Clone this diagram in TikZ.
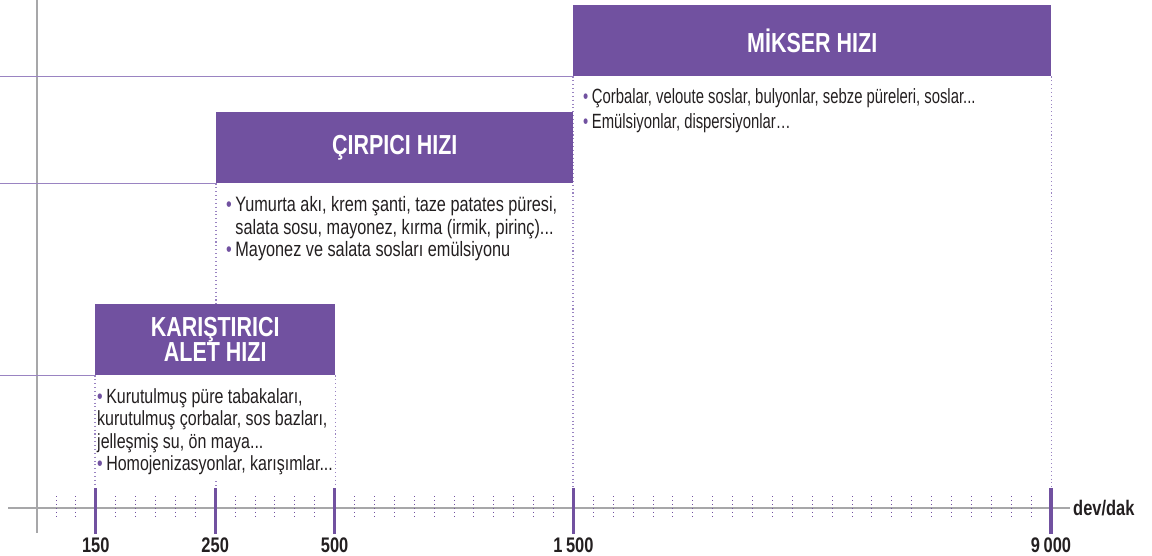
\documentclass[tikz,border=0pt]{standalone}
\usepackage{fontspec}
\setmainfont{Liberation Sans}[FakeStretch=0.78]
\newfontfamily\narrowfont{Liberation Sans}[FakeStretch=0.72]
\usepackage{xcolor}
\usetikzlibrary{positioning,calc}
\definecolor{speedpurple}{HTML}{7151A0}
\definecolor{linepurple}{HTML}{9A84C2}
\definecolor{axisgray}{HTML}{A7A7A9}
\definecolor{ink}{HTML}{231F20}
\newcommand{\pbul}{{\color{speedpurple}\textbullet}\,}

\begin{document}
\begin{tikzpicture}[x=0.03cm, y=-0.03cm]
\useasboundingbox (0,0) rectangle (1152,555);

% boxes are sized in px of the sheet (1px = 0.03cm)
\tikzset{
  speedbox/.style={fill=speedpurple, text=white, inner sep=0pt, anchor=north west, align=center,
                   minimum height=2.13cm, font=\fontsize{23.5}{21.3}\selectfont\bfseries},
  usetext/.style={anchor=north west, inner sep=0pt, align=left, text=ink,
                  font=\fontsize{17.8}{19.4}\selectfont},
  panel/.style={fill=white, inner sep=0pt, anchor=north west},
  rangeline/.style={draw=linepurple, line width=0.9pt, dash pattern=on 0.9pt off 2.4pt},
  levelline/.style={draw=linepurple, line width=0.9pt},
  majortick/.style={draw=speedpurple, line width=2.6pt},
  minortick/.style={draw=speedpurple, line width=0.8pt, dash pattern=on 0.8pt off 2.6pt},
  axislabel/.style={font=\fontsize{18}{20}\selectfont\bfseries, text=ink, inner sep=0pt}}

% frame of the chart
\coordinate (leftedge) at (0,0);
\coordinate (axistop) at (0,487);
\draw[axisgray, line width=1pt] (37,0) -- (37,533);
\draw[axisgray, line width=1.2pt] (8,508) -- (1070,508);
\node[axislabel, anchor=west] (unit) at (1073,508) {dev/dak};

% minor ticks every 19.9px, major ticks at the speed limits
\foreach \k in {0,...,49}{
  \draw[minortick] (56+19.9*\k,496) -- (56+19.9*\k,519);
}
\foreach \k/\val [count=\i] in {2/150, 8/250, 14/500, 26/1\,500, 50/9\,000}{
  \draw[majortick] (56+19.9*\k,488) -- (56+19.9*\k,534);
  \node[axislabel, anchor=base] (tick\i) at (56+19.9*\k,552) {\val};
}

% mikser hizi (1 500 - 9 000)
\node[speedbox, minimum width=14.34cm] (mikser) at (573,5) {MİKSER HIZI};
\draw[levelline] (mikser.south west -| leftedge) -- (mikser.south west);
\draw[rangeline] (mikser.south west) -- (mikser.south west |- axistop);
\draw[rangeline] (mikser.south east) -- (mikser.south east |- axistop);
\node[usetext, font=\narrowfont\fontsize{17.6}{21.3}\selectfont] (mikserlist) at (583,88)
  {\pbul Çorbalar, veloute soslar, bulyonlar, sebze püreleri, soslar...\\
   \pbul Emülsiyonlar, dispersiyonlar\ldots};

% cirpici hizi (250 - 1 500)
\node[speedbox, minimum width=10.71cm] (cirpici) at (216,112) {ÇIRPICI HIZI};
\draw[levelline] (cirpici.south west -| leftedge) -- (cirpici.south west);
\draw[rangeline] (cirpici.south west) -- (cirpici.south west |- axistop);
\node[usetext] (cirpicilist) at (226,196)
  {\pbul Yumurta akı, krem şanti, taze patates püresi,\\
   \hphantom{\pbul}salata sosu, mayonez, kırma (irmik, pirinç)...\\
   \pbul Mayonez ve salata sosları emülsiyonu};

% karistirici alet hizi (150 - 500)
\node[speedbox, minimum width=7.2cm] (karistirici) at (95,304) {KARIŞTIRICI\\ALET HIZI};
\node[panel, minimum width=7.08cm, minimum height=3.15cm] (karpanel) at (97,376) {};
\draw[levelline] (karistirici.south west -| leftedge) -- (karistirici.south west);
\draw[rangeline] (karistirici.south west) -- (karistirici.south west |- axistop);
\draw[rangeline] (karistirici.south east) -- (karistirici.south east |- axistop);
\node[usetext, font=\fontsize{17.5}{19.2}\selectfont] (karlist) at (97,388)
  {\pbul Kurutulmuş püre tabakaları,\\
   kurutulmuş çorbalar, sos bazları,\\
   jelleşmiş su, ön maya...\\
   \pbul Homojenizasyonlar, karışımlar...};

\end{tikzpicture}
\end{document}
